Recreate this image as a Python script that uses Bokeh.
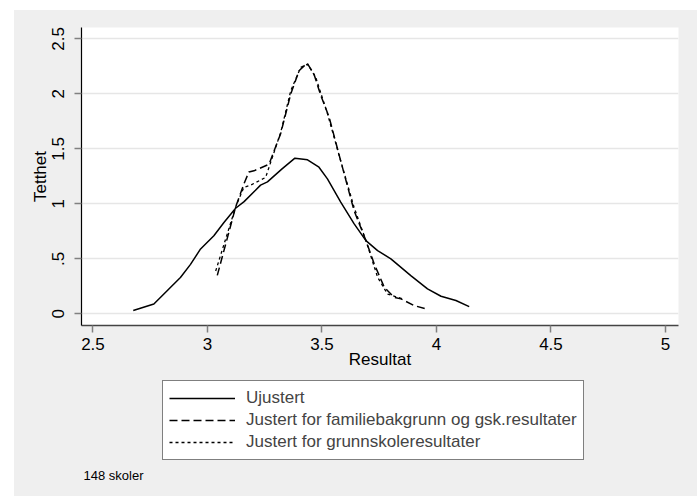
from bokeh.plotting import figure
from bokeh.models import Legend, LegendItem, Label, FixedTicker, Range1d, Spacer
from bokeh.layouts import column, row
from bokeh.embed import file_html
from bokeh.resources import INLINE

# ---- data ----
uj_x = [2.676, 2.766, 2.824, 2.882, 2.926, 2.97, 3.028, 3.072, 3.123, 3.16, 3.232, 3.262,
        3.327, 3.382, 3.437, 3.487, 3.524, 3.582, 3.640, 3.692, 3.743, 3.801, 3.888, 3.961,
        4.02, 4.085, 4.143]
uj_y = [0.03, 0.09, 0.21, 0.33, 0.45, 0.59, 0.71, 0.83, 0.96, 1.02, 1.17, 1.20,
        1.32, 1.415, 1.40, 1.333, 1.227, 1.015, 0.82, 0.666, 0.575, 0.50, 0.348, 0.227,
        0.16, 0.121, 0.066]

fam_x = [3.043, 3.123, 3.159, 3.181, 3.203, 3.269, 3.320, 3.364, 3.40, 3.435, 3.465, 3.495,
         3.531, 3.582, 3.64, 3.692, 3.728, 3.772, 3.815, 3.845, 3.903, 3.954]
fam_y = [0.35, 0.97, 1.18, 1.29, 1.30, 1.36, 1.64, 2.0, 2.21, 2.28, 2.18, 1.985,
         1.79, 1.39, 0.94, 0.666, 0.455, 0.242, 0.151, 0.136, 0.075, 0.045]

gsk_x = [3.036, 3.123, 3.159, 3.189, 3.254, 3.283, 3.320, 3.364, 3.407, 3.437, 3.473, 3.524,
         3.582, 3.64, 3.692, 3.743, 3.786, 3.830, 3.852]
gsk_y = [0.39, 0.97, 1.15, 1.17, 1.24, 1.42, 1.65, 2.03, 2.24, 2.27, 2.15, 1.82,
         1.39, 0.97, 0.666, 0.333, 0.18, 0.151, 0.136]

x_ticks = [2.5, 3, 3.5, 4, 4.5, 5]
y_ticks = [0, 0.5, 1, 1.5, 2, 2.5]
y_tick_labels = ["0", ".5", "1", "1.5", "2", "2.5"]

labels = ["Ujustert", "Justert for familiebakgrunn og gsk.resultater",
          "Justert for grunnskoleresultater"]
note = "148 skoler"

FONT = "Liberation Sans"
BG = "#efefef"
W = 683
BL, BR = 67, 19

styles = [dict(line_color="black", line_width=1.5),
          dict(line_color="black", line_width=1.5, line_dash="8 4"),
          dict(line_color="black", line_width=1.3, line_dash="3 3")]
series = [(uj_x, uj_y), (fam_x, fam_y), (gsk_x, gsk_y)]

# ---------------- main plot ----------------
p = figure(width=W, height=363, output_backend="svg", toolbar_location=None,
           x_range=Range1d(2.45, 5.057), y_range=Range1d(-0.106, 2.603),
           min_border_left=BL, min_border_top=17, min_border_right=BR, min_border_bottom=48,
           background_fill_color="white", border_fill_color=BG, outline_line_color=None)

p.xgrid.grid_line_color = None
p.ygrid.grid_line_color = "#e6e6e6"
p.ygrid.grid_line_width = 1.6

p.xaxis.ticker = FixedTicker(ticks=x_ticks)
p.yaxis.ticker = FixedTicker(ticks=y_ticks)
p.yaxis.major_label_overrides = dict(zip(y_ticks, y_tick_labels))
p.yaxis.major_label_orientation = "vertical"

for ax in (p.xaxis, p.yaxis):
    ax.major_label_text_font = FONT
    ax.major_label_text_font_size = "17px"
    ax.major_label_text_color = "black"
    ax.axis_label_text_font = FONT
    ax.axis_label_text_font_size = "17px"
    ax.axis_label_text_font_style = "normal"
    ax.axis_label_text_color = "black"
    ax.minor_tick_line_color = None
    ax.major_tick_in = 0
    ax.major_tick_out = 7
    ax.major_tick_line_color = "#808080"
    ax.major_tick_line_width = 1.5

p.xaxis.axis_label = "Resultat"
p.yaxis.axis_label = "Tetthet"
p.xaxis.axis_line_color = "#444444"
p.yaxis.axis_line_color = "black"
p.xaxis.axis_line_width = 1.5
p.yaxis.axis_line_width = 1.2
p.xaxis.major_label_standoff = 5
p.yaxis.major_label_standoff = 10
p.xaxis.axis_label_standoff = -3
p.yaxis.axis_label_standoff = 0

for (xs, ys), st in zip(series, styles):
    p.line(xs, ys, **st)

# ---------------- legend / note panel ----------------
H2 = 123
FW = W - BL - BR          # frame width in pixels
OFF = 100                 # shift the pixel-based range so the key lines stay off-frame
q = figure(width=W, height=H2, output_backend="svg", toolbar_location=None,
           x_range=Range1d(OFF, OFF + FW), y_range=Range1d(0, H2),
           x_axis_location=None, y_axis_location=None,
           min_border_left=BL, min_border_right=BR, min_border_top=0, min_border_bottom=0,
           background_fill_color=None, border_fill_color=None, outline_line_color=None)
q.grid.visible = False

# legend keys: same series, lying outside this panel's visible range
keys = [q.line(xs, ys, **st) for (xs, ys), st in zip(series, styles)]

legend = Legend(items=[LegendItem(label=lab, renderers=[k]) for lab, k in zip(labels, keys)],
                location=(81, 36), orientation="vertical",
                border_line_color="black", border_line_width=1,
                background_fill_color="white", background_fill_alpha=1,
                label_text_font=FONT, label_text_font_size="17px",
                glyph_width=66, glyph_height=22, label_height=22, label_standoff=11,
                spacing=0, padding=6, margin=0)
q.add_layout(legend, "center")

q.add_layout(Label(x=OFF + 2, y=21, text=note, text_font=FONT, text_font_size="13px",
                   text_align="left", text_baseline="middle", text_color="black"))

panel = column(p, q, spacing=0, styles={"background-color": BG})
layout = column(Spacer(height=10),
                row(Spacer(width=14), panel, spacing=0),
                spacing=0)

open("out.html", "w").write(file_html(layout, INLINE))
